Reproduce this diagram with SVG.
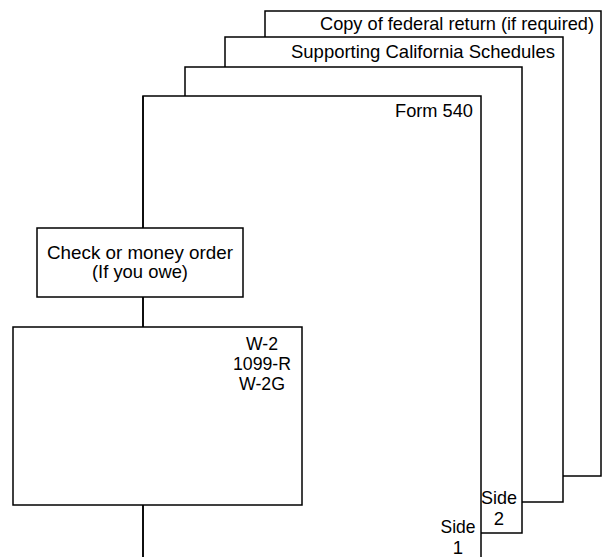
<svg xmlns="http://www.w3.org/2000/svg" width="608" height="557" viewBox="0 0 608 557">
<style>
.sheet{fill:#fff;stroke:#000;stroke-width:1.5}
.box{fill:#fff;stroke:#000;stroke-width:1.5}
.ln{fill:none;stroke:#000;stroke-width:1.5}
text{font-family:"Liberation Sans",Arial,sans-serif;font-size:18.5px;fill:#000}
.r{text-anchor:end}
.c{text-anchor:middle}
</style>
<rect x="0" y="0" width="608" height="557" fill="#fff"/>
<g id="federal">
<rect class="sheet" x="265" y="11" width="336" height="465"/>
<text class="r" x="594" y="30" textLength="274" lengthAdjust="spacingAndGlyphs">Copy of federal return (if required)</text>
</g>
<g id="schedules">
<rect class="sheet" x="225" y="37" width="338" height="465"/>
<text class="r" x="555" y="58" textLength="264" lengthAdjust="spacingAndGlyphs">Supporting California Schedules</text>
</g>
<g id="sheet3">
<rect class="sheet" x="185" y="67" width="337" height="466"/>
<text class="c" x="499" y="504" textLength="36" lengthAdjust="spacingAndGlyphs">Side</text>
<text class="c" x="499" y="525">2</text>
</g>
<g id="form540">
<rect class="sheet" x="143" y="96" width="338" height="470"/>
<text class="r" x="473" y="117" textLength="78" lengthAdjust="spacingAndGlyphs">Form 540</text>
<text class="c" x="458" y="533" textLength="35" lengthAdjust="spacingAndGlyphs">Side</text>
<text class="c" x="458" y="554">1</text>
</g>
<g id="connectors">
<line class="ln" x1="143" y1="96" x2="143" y2="557"/>
</g>
<g id="check">
<rect class="box" x="37" y="228" width="206" height="69"/>
<text class="c" x="140" y="259" textLength="186" lengthAdjust="spacingAndGlyphs">Check or money order</text>
<text class="c" x="140" y="278" textLength="96" lengthAdjust="spacingAndGlyphs">(If you owe)</text>
</g>
<g id="w2">
<rect class="box" x="13" y="327" width="289" height="178"/>
<text class="c" x="262" y="350" textLength="32" lengthAdjust="spacingAndGlyphs">W-2</text>
<text class="c" x="262" y="370" textLength="58" lengthAdjust="spacingAndGlyphs">1099-R</text>
<text class="c" x="262" y="390" textLength="46" lengthAdjust="spacingAndGlyphs">W-2G</text>
</g>
</svg>
